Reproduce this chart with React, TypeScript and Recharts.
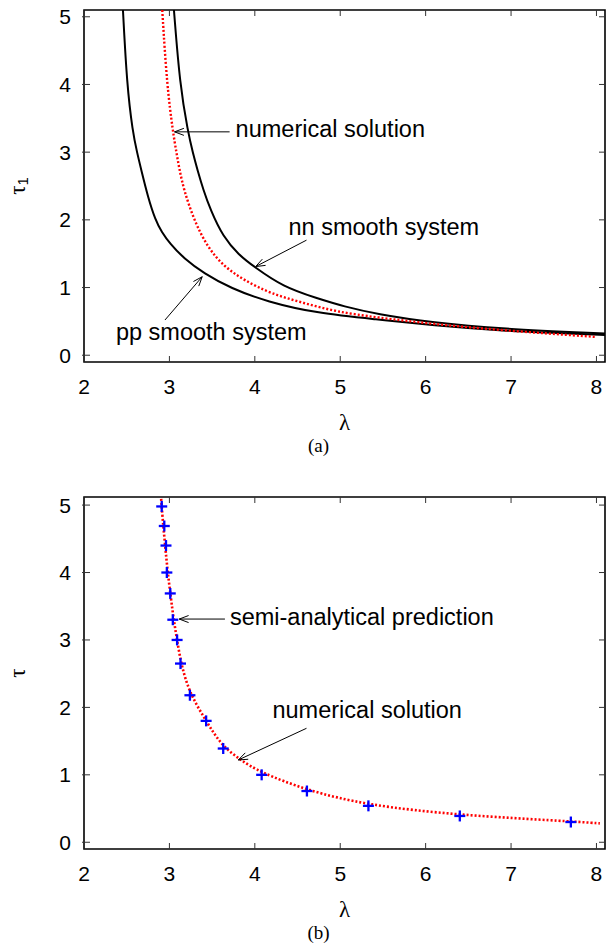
import React from 'react';
import { ComposedChart, Line, Scatter, XAxis, YAxis, ReferenceArea, ReferenceLine } from 'recharts';

// lambda / tau readings for each curve
const lambdaTicks = [2, 3, 4, 5, 6, 7, 8];
const tauTicks = [0, 1, 2, 3, 4, 5];

const ppSmooth = [
  { lambda: 2.456, tau: 5.1 }, { lambda: 2.503, tau: 3.99 }, { lambda: 2.57, tau: 3.3 },
  { lambda: 2.622, tau: 2.99 }, { lambda: 2.67, tau: 2.74 }, { lambda: 2.748, tau: 2.34 },
  { lambda: 2.835, tau: 2.0 }, { lambda: 2.91, tau: 1.82 }, { lambda: 3.006, tau: 1.65 },
  { lambda: 3.17, tau: 1.43 }, { lambda: 3.404, tau: 1.21 }, { lambda: 3.717, tau: 0.99 },
  { lambda: 4.145, tau: 0.79 }, { lambda: 4.73, tau: 0.62 }, { lambda: 5.42, tau: 0.53 },
  { lambda: 6.09, tau: 0.44 }, { lambda: 6.87, tau: 0.36 }, { lambda: 8.1, tau: 0.3 },
];

const nnSmooth = [
  { lambda: 3.053, tau: 5.1 }, { lambda: 3.123, tau: 3.99 }, { lambda: 3.217, tau: 3.3 },
  { lambda: 3.276, tau: 2.98 }, { lambda: 3.328, tau: 2.74 }, { lambda: 3.398, tau: 2.44 },
  { lambda: 3.48, tau: 2.15 }, { lambda: 3.627, tau: 1.75 }, { lambda: 3.814, tau: 1.48 },
  { lambda: 3.989, tau: 1.31 }, { lambda: 4.329, tau: 1.01 }, { lambda: 4.73, tau: 0.84 },
  { lambda: 5.043, tau: 0.72 }, { lambda: 5.42, tau: 0.61 }, { lambda: 6.09, tau: 0.48 },
  { lambda: 6.87, tau: 0.39 }, { lambda: 8.1, tau: 0.32 },
];

const numericalA = [
  { lambda: 2.916, tau: 5.1 }, { lambda: 2.971, tau: 3.99 }, { lambda: 3.041, tau: 3.3 },
  { lambda: 3.083, tau: 2.99 }, { lambda: 3.118, tau: 2.74 }, { lambda: 3.17, tau: 2.44 },
  { lambda: 3.287, tau: 2.0 }, { lambda: 3.443, tau: 1.6 }, { lambda: 3.638, tau: 1.31 },
  { lambda: 3.872, tau: 1.11 }, { lambda: 4.185, tau: 0.91 }, { lambda: 4.575, tau: 0.77 },
  { lambda: 4.964, tau: 0.64 }, { lambda: 5.42, tau: 0.56 }, { lambda: 6.09, tau: 0.46 },
  { lambda: 6.87, tau: 0.37 }, { lambda: 8.0, tau: 0.27 },
];

const numericalB = [
  { lambda: 2.9, tau: 5.15 }, { lambda: 2.92, tau: 4.8 }, { lambda: 2.95, tau: 4.4 },
  { lambda: 2.98, tau: 4.0 }, { lambda: 3.02, tau: 3.6 }, { lambda: 3.05, tau: 3.3 },
  { lambda: 3.09, tau: 3.0 }, { lambda: 3.14, tau: 2.62 }, { lambda: 3.24, tau: 2.2 },
  { lambda: 3.43, tau: 1.8 }, { lambda: 3.6, tau: 1.45 }, { lambda: 3.83, tau: 1.22 },
  { lambda: 4.06, tau: 1.04 }, { lambda: 4.61, tau: 0.77 }, { lambda: 5.31, tau: 0.55 },
  { lambda: 6.4, tau: 0.4 }, { lambda: 7.71, tau: 0.31 }, { lambda: 8.04, tau: 0.28 },
];

const semiAnalytical = [
  { lambda: 2.91, tau: 4.98 }, { lambda: 2.94, tau: 4.69 }, { lambda: 2.96, tau: 4.4 },
  { lambda: 2.97, tau: 4.0 }, { lambda: 3.01, tau: 3.69 }, { lambda: 3.04, tau: 3.3 },
  { lambda: 3.09, tau: 3.0 }, { lambda: 3.13, tau: 2.65 }, { lambda: 3.24, tau: 2.18 },
  { lambda: 3.43, tau: 1.8 }, { lambda: 3.63, tau: 1.39 }, { lambda: 4.08, tau: 1.0 },
  { lambda: 4.61, tau: 0.76 }, { lambda: 5.33, tau: 0.54 }, { lambda: 6.4, tau: 0.39 },
  { lambda: 7.7, tau: 0.3 },
];

// arrow annotations: tail/head in (lambda, tau), text offset from tail in px
const notesA = [
  { text: 'numerical solution', tail: [3.705, 3.3], head: [3.06, 3.3], dx: 6, dy: 5 },
  { text: 'nn smooth system', tail: [4.605, 1.7], head: [4.01, 1.31], dx: -18, dy: -5 },
  { text: 'pp smooth system', tail: [2.948, 0.52], head: [3.384, 1.16], dx: -49, dy: 20 },
];
const notesB = [
  { text: 'semi-analytical prediction', tail: [3.65, 3.31], head: [3.115, 3.31], dx: 5, dy: 6 },
  { text: 'numerical solution', tail: [4.605, 1.69], head: [3.806, 1.22], dx: -34, dy: -10 },
];

const SANS = '"Liberation Sans", Arial, Helvetica, sans-serif';
const SERIF = '"Liberation Serif", "Times New Roman", serif';
const PLOT_W = 521;
const PLOT_H = 352;
const X_MIN = 2;
const X_MAX = 8.1;
const Y_MIN = -0.1;

function LambdaTick({ x, y, payload }: any) {
  return (
    <g>
      <line x1={x} y1={y} x2={x} y2={y - 6} stroke="#333" />
      <line x1={x} y1={y - PLOT_H} x2={x} y2={y - PLOT_H + 6} stroke="#333" />
      <text x={x} y={y + 32} textAnchor="middle" fontSize={21} fontFamily={SANS} fill="#000">
        {payload.value}
      </text>
    </g>
  );
}

function TauTick({ x, y, payload }: any) {
  return (
    <g>
      <line x1={x - 2} y1={y} x2={x + 6} y2={y} stroke="#333" />
      <line x1={x + PLOT_W - 6} y1={y} x2={x + PLOT_W} y2={y} stroke="#333" />
      <text x={x - 13} y={y + 7.5} textAnchor="end" fontSize={21} fontFamily={SANS} fill="#000">
        {payload.value}
      </text>
    </g>
  );
}

function Plus({ cx, cy }: any) {
  if (cx == null || cy == null) return null;
  return (
    <g stroke="#0000ff" strokeWidth={2.3}>
      <line x1={cx - 5.5} y1={cy} x2={cx + 5.5} y2={cy} />
      <line x1={cx} y1={cy - 5.5} x2={cx} y2={cy + 5.5} />
    </g>
  );
}

function Arrow({ x1, y1, x2, y2, text, dx, dy }: any) {
  const ang = Math.atan2(y1 - y2, x1 - x2);
  const len = 10;
  const spread = 0.36;
  const ax = x2 + len * Math.cos(ang + spread);
  const ay = y2 + len * Math.sin(ang + spread);
  const bx = x2 + len * Math.cos(ang - spread);
  const by = y2 + len * Math.sin(ang - spread);
  return (
    <g>
      <line x1={x1} y1={y1} x2={x2} y2={y2} stroke="#000" strokeWidth={1} />
      <polyline points={`${ax},${ay} ${x2},${y2} ${bx},${by}`} fill="none" stroke="#000" strokeWidth={1} />
      <text x={x1 + dx} y={y1 + dy} fontSize={23.5} fontFamily={SANS} fill="#000">
        {text}
      </text>
    </g>
  );
}

function Panel({ height, yMax, sub, tag, notes, children }: any) {
  const xTitle = (p: any) => {
    const { x, y, width } = p.viewBox;
    return (
      <g>
        <text x={x + width / 2} y={y + 68} textAnchor="middle" fontSize={23} fontFamily={SERIF} fill="#000">
          λ
        </text>
        <text x={x + width / 2 - 26} y={y + 90} textAnchor="middle" fontSize={19} fontFamily={SERIF} fill="#000">
          {tag}
        </text>
      </g>
    );
  };
  const yLabel = (p: any) => {
    const { y, height: h } = p.viewBox;
    const cx = 17;
    const cy = y + h / 2;
    return (
      <text
        x={cx}
        y={cy}
        transform={`rotate(-90, ${cx}, ${cy})`}
        textAnchor="middle"
        dominantBaseline="central"
        fontSize={23}
        fontFamily={SERIF}
        fill="#000"
      >
        τ
        {sub ? (
          <tspan fontSize={15} fontFamily={SANS} dy={5}>
            {sub}
          </tspan>
        ) : null}
      </text>
    );
  };
  return (
    <ComposedChart width={606} height={height} margin={{ top: 10, right: 1, left: 24, bottom: height - 10 - PLOT_H - 30 }}>
      <XAxis
        type="number"
        dataKey="lambda"
        domain={[X_MIN, X_MAX]}
        ticks={lambdaTicks}
        interval={0}
        allowDataOverflow
        axisLine={false}
        tickLine={false}
        tickSize={0}
        tickMargin={0}
        height={30}
        tick={<LambdaTick />}
        label={xTitle}
      />
      <YAxis
        type="number"
        dataKey="tau"
        domain={[Y_MIN, yMax]}
        ticks={tauTicks}
        interval={0}
        allowDataOverflow
        axisLine={false}
        tickLine={false}
        tickSize={0}
        tickMargin={0}
        width={60}
        tick={<TauTick />}
        label={yLabel}
      />
      {children}
      <ReferenceArea x1={X_MIN} x2={X_MAX} y1={Y_MIN} y2={yMax} fill="none" stroke="#000" strokeWidth={1.6} fillOpacity={0} />
      {notes.map((n: any, i: number) => (
        <ReferenceLine
          key={i}
          ifOverflow="visible"
          segment={[
            { x: n.tail[0], y: n.tail[1] },
            { x: n.head[0], y: n.head[1] },
          ]}
          shape={(p: any) => <Arrow {...p} text={n.text} dx={n.dx} dy={n.dy} />}
        />
      ))}
    </ComposedChart>
  );
}

export default function App() {
  return (
    <div style={{ position: 'absolute', left: 0, top: 0, width: 606, height: 945, background: '#fff' }}>
      <Panel height={487} yMax={5.1} sub="1" tag="(a)" notes={notesA}>
        <Line data={ppSmooth} dataKey="tau" type="basis" stroke="#000" strokeWidth={2} dot={false} isAnimationActive={false} />
        <Line data={nnSmooth} dataKey="tau" type="basis" stroke="#000" strokeWidth={2} dot={false} isAnimationActive={false} />
        <Line data={numericalA} dataKey="tau" type="basis" stroke="#ff0000" strokeWidth={2.4} strokeDasharray="2 2" dot={false} isAnimationActive={false} />
      </Panel>
      <Panel height={458} yMax={5.12} sub={null} tag="(b)" notes={notesB}>
        <Line data={numericalB} dataKey="tau" type="basis" stroke="#ff0000" strokeWidth={2.6} strokeDasharray="2 2" dot={false} isAnimationActive={false} />
        <Scatter data={semiAnalytical} dataKey="tau" shape={(p: any) => <Plus cx={p.cx} cy={p.cy} />} isAnimationActive={false} />
      </Panel>
    </div>
  );
}
